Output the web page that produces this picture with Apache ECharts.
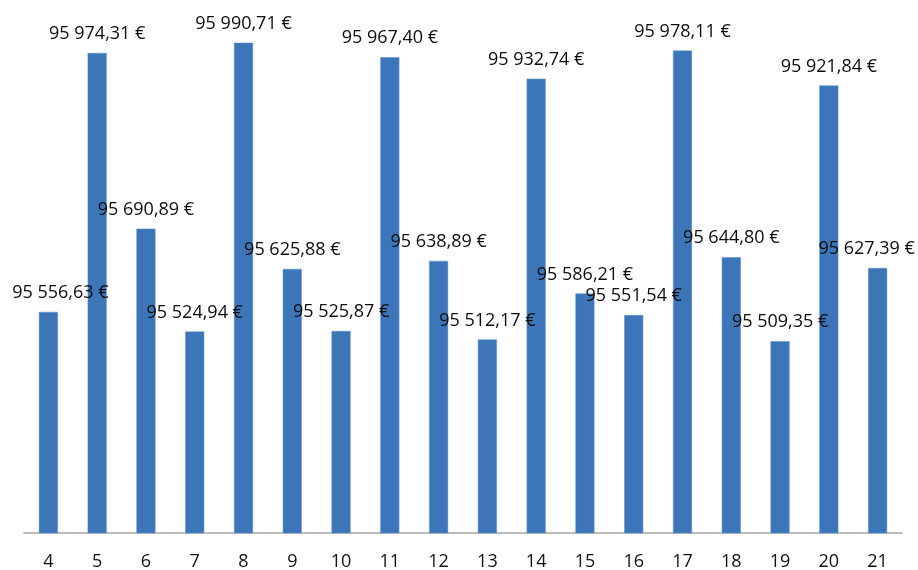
<!DOCTYPE html>
<html>
<head>
<meta charset="utf-8">
<script src="https://cdn.jsdelivr.net/npm/echarts@6/dist/echarts.min.js"></script>
<style>
  html, body { margin: 0; padding: 0; background: #ffffff; }
  #chart { width: 918px; height: 570px; }
</style>
</head>
<body>
<div id="chart"></div>
<script>
// Period numbers along the x axis
const categories = ['4', '5', '6', '7', '8', '9', '10', '11', '12', '13', '14', '15', '16', '17', '18', '19', '20', '21'];

// Balance per period, in euros
const balances = [
  95556.63, 95974.31, 95690.89, 95524.94, 95990.71, 95625.88,
  95525.87, 95967.40, 95638.89, 95512.17, 95932.74, 95586.21,
  95551.54, 95978.11, 95644.80, 95509.35, 95921.84, 95627.39
];

// Value axis range (the axis itself is hidden)
const axisMin = 95200;
const axisMax = 96000;

// French currency format: "95 556,63 €"
function formatEuro(v) {
  const parts = v.toFixed(2).split('.');
  const intPart = parts[0].replace(/\B(?=(\d{3})+(?!\d))/g, ' ');
  return intPart + ',' + parts[1] + ' €';
}

// Keep the outermost labels inside the chart edges
const seriesData = balances.map(function (v, i) {
  const item = { value: v };
  if (i === 0) item.label = { offset: [12, 0] };
  if (i === balances.length - 1) item.label = { offset: [-11, 0] };
  return item;
});

const chart = echarts.init(document.getElementById('chart'), null, { renderer: 'canvas' });
chart.setOption({
  animation: false,
  backgroundColor: '#ffffff',
  grid: { left: 24, right: 16, top: 37, bottom: 37, containLabel: false, outerBoundsMode: 'none' },
  xAxis: {
    type: 'category',
    data: categories,
    axisLine: { show: true, lineStyle: { color: '#a6a6a6', width: 1.5 } },
    axisTick: { show: false },
    axisLabel: {
      color: '#111111',
      fontFamily: 'Open Sans',
      fontSize: 18,
      margin: 20
    }
  },
  yAxis: {
    type: 'value',
    min: axisMin,
    max: axisMax,
    show: false,
    splitLine: { show: false }
  },
  series: [{
    type: 'bar',
    data: seriesData,
    barWidth: 19,
    itemStyle: { color: '#3d76b8', borderColor: '#5d8fca', borderWidth: 0.5 },
    label: {
      show: true,
      position: 'top',
      distance: 10,
      color: '#0d0d0d',
      fontFamily: 'Open Sans',
      fontSize: 18,
      formatter: function (p) { return formatEuro(p.value); }
    }
  }]
});
</script>
</body>
</html>
